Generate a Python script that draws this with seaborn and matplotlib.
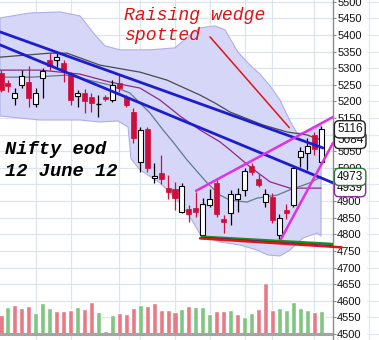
import numpy as np
import pandas as pd
import matplotlib
matplotlib.use("Agg")
import matplotlib.pyplot as plt
import matplotlib.transforms as mtransforms
import seaborn as sns

# ---------------- data ----------------
opens  = [5284, 5254, 5209, 5249, 5259, 5192, 5269, 5324, 5324, 5316,
          5279, 5217, 5224, 5214, 5192, 5214, 5204, 5254, 5214, 5169,
          5019, 5116, 4969, 4985, 4939, 4936, 4868, 4875, 4878, 4798,
          4888, 4955, 4845, 4863, 4905, 4932, 5006, 4966, 4896, 4912,
          4798, 4873, 4887, 5034, 5044, 5099, 5018]
highs  = [5294, 5264, 5239, 5294, 5306, 5239, 5299, 5345, 5345, 5324,
          5289, 5234, 5236, 5224, 5219, 5219, 5264, 5279, 5219, 5179,
          5124, 5124, 5016, 5039, 4979, 4958, 4955, 4888, 4927, 4908,
          4936, 4963, 4858, 4933, 4939, 4999, 5015, 4982, 4936, 4924,
          4861, 4891, 5009, 5064, 5089, 5109, 5126]
lows   = [5228, 5229, 5189, 5240, 5184, 5184, 5209, 5294, 5304, 5259,
          5189, 5182, 5164, 5169, 5154, 5201, 5198, 5229, 5184, 5074,
          4989, 4988, 4955, 4952, 4906, 4873, 4864, 4838, 4851, 4788,
          4882, 4851, 4803, 4828, 4868, 4915, 4979, 4942, 4882, 4834,
          4785, 4846, 4882, 5004, 4994, 5039, 5010]
closes = [5234, 5246, 5226, 5276, 5209, 5226, 5291, 5306, 5333, 5292,
          5204, 5224, 5201, 5194, 5192, 5207, 5249, 5239, 5189, 5089,
          5114, 4999, 4976, 4966, 4928, 4908, 4945, 4861, 4867, 4891,
          4905, 4860, 4836, 4922, 4921, 4991, 4988, 4947, 4922, 4842,
          4848, 4863, 4999, 5052, 5066, 5056, 5116]
volumes = [19, 27, 29, 26, 28, 21, 31, 26, 23, 23,
           24, 27, 25, 32, 22, 3, 19, 21, 20, 26,
           29, 28, 31, 24, 24, 22, 25, 28, 27, 27,
           20, 23, 23, 24, 20, 17, 21, 25, 51, 24,
           26, 24, 32, 26, 24, 22, 23]
vol_dir = ['d', 'u', 'd', 'd', 'd', 'u', 'u', 'u', 'd', 'd',
           'd', 'u', 'd', 'd', 'u', 'n', 'u', 'd', 'd', 'd',
           'u', 'd', 'd', 'd', 'd', 'd', 'u', 'd', 'u', 'u',
           'u', 'd', 'd', 'u', 'd', 'u', 'u', 'd', 'd', 'd',
           'u', 'u', 'u', 'u', 'u', 'd', 'u']

# Bollinger band (index, price)
bb_up_x = [-0.14, 4.17, 8.48, 11.35, 13.5, 14.94, 17.1, 21.41, 25.0, 27.16, 28.59,
           30.75, 32.18, 34.05, 35.78, 37.21, 38.65, 40.09, 41.52, 42.53, 43.68, 44.83, 45.98]
bb_up_y = [5451, 5466, 5469, 5457, 5400, 5367, 5355, 5355, 5361, 5400, 5421,
           5427, 5415, 5348, 5309, 5282, 5246, 5204, 5141, 5105, 5105, 5114, 5129]
bb_lo_x = [-0.14, 5.6, 11.35, 14.22, 16.81, 18.25, 18.68, 19.97, 22.84, 25.72, 27.16,
           28.59, 30.03, 31.47, 34.34, 36.78, 38.36, 40.09, 41.52, 43.39, 45.4, 45.98]
bb_lo_y = [5156, 5144, 5144, 5138, 5141, 5123, 5027, 4994, 4955, 4894, 4852,
           4801, 4789, 4777, 4768, 4753, 4738, 4735, 4753, 4789, 4804, 4795]

# moving averages
ma_gray_x = [-0.14, 7.04, 9.48, 14.22, 19.97, 23.85, 28.59, 30.75, 32.9, 37.64, 41.09, 43.97, 45.98]
ma_gray_y = [5333, 5345, 5345, 5309, 5288, 5264, 5219, 5195, 5168, 5129, 5108, 5099, 5084]
ma_purple_x = [-0.14, 5.6, 11.35, 15.66, 19.97, 22.84, 25.72, 28.59, 31.47, 32.9, 35.78, 38.65, 41.52, 45.98]
ma_purple_y = [5294, 5294, 5282, 5258, 5240, 5204, 5156, 5114, 5078, 5054, 5003, 4958, 4939, 4939]
ma_slate_x = [-0.14, 4.6, 9.48, 15.66, 18.53, 21.41, 23.28, 24.71, 26.72, 29.6, 31.47,
              32.9, 35.34, 36.78, 39.66, 41.52, 44.4, 45.98]
ma_slate_y = [5273, 5273, 5279, 5249, 5225, 5165, 5114, 5078, 5024, 4955, 4918,
              4903, 4897, 4909, 4918, 4934, 4955, 4973]

# trend lines
blue_a_x, blue_a_y = [-0.14, 46.26], [5409, 5060]
blue_b_x, blue_b_y = [-0.14, 47.7], [5370, 4955]
mag_up_x, mag_up_y = [28.02, 47.7], [4931, 5153]
mag_lo_x, mag_lo_y = [40.23, 47.7], [4786, 5075]
sup_green_x, sup_green_y = [28.83, 47.7], [4793, 4771]
sup_blue_x, sup_blue_y = [28.9, 47.7], [4790, 4765]
sup_red_x, sup_red_y = [28.59, 48.96], [4788, 4761]
arrow_x, arrow_y = [30.03, 41.42], [5394, 5121]

price_ticks = list(range(4500, 5501, 50))
vgrid_idx = [5, 10, 17, 20, 25, 30, 35, 39, 45]
value_labels = [("5084", 5084, "#222222"), ("5116", 5116, "#222222"),
                ("4939", 4939, "#8a2a9a"), ("4973", 4973, "#2a7a3a")]

# ---------------- style ----------------
sns.set_style("white")
plt.rcParams['font.family'] = ['Liberation Sans', 'DejaVu Sans']

W, H = 379, 340
fig = plt.figure(figsize=(W / 100, H / 100), dpi=100)
ax = fig.add_axes([0, 0, 333 / W, 1])
ax.set_xlim(-0.144, 47.70)
ax.set_ylim(4482.3, 5504.9)

# volume on twin axis (created first so the price ticks can be set afterwards)
ax2 = ax.twinx()
ax2.set_ylim(-6, 334)
vcol = {'u': '#80c680', 'd': '#e87a86', 'n': '#a0a0a0'}
bw = 0.72
ax2.bar(range(len(volumes)), volumes, width=bw, color=[vcol[d] for d in vol_dir], zorder=2)
ax2.axhline(0, color='#a4a4a4', lw=2.2, zorder=3)
ax2.set_yticks([])
for s in ax2.spines.values():
    s.set_visible(False)

# grid
for p in price_ticks:
    ax.axhline(p, color='#dde4ec', lw=0.9, zorder=0)
for k in vgrid_idx:
    ax.axvline(k, color='#dde4ec', lw=0.9, zorder=0)

# Bollinger band
poly_x = bb_up_x + bb_lo_x[::-1]
poly_y = bb_up_y + bb_lo_y[::-1]
ax.fill(poly_x, poly_y, facecolor='#d6d6f9', edgecolor='#aeaee6', lw=0.8, zorder=1)

# moving averages
sns.lineplot(x=ma_gray_x, y=ma_gray_y, ax=ax, color='#4a4a4a', lw=0.9, sort=False, estimator=None, zorder=2)
sns.lineplot(x=ma_purple_x, y=ma_purple_y, ax=ax, color='#8a2a8a', lw=0.9, sort=False, estimator=None, zorder=2)
sns.lineplot(x=ma_slate_x, y=ma_slate_y, ax=ax, color='#5f7a8a', lw=0.9, sort=False, estimator=None, zorder=2)

# candles
red = '#cc0f3c'
for k in range(len(opens)):
    o, h, l, c = opens[k], highs[k], lows[k], closes[k]
    if c < o:
        ax.vlines(k, l, h, color=red, lw=0.9, zorder=3)
        ax.bar(k, o - c, bottom=c, width=bw, color=red, edgecolor=red, lw=0.5, zorder=4)
    elif c > o:
        ax.vlines(k, l, h, color='black', lw=0.9, zorder=3)
        ax.bar(k, c - o, bottom=o, width=bw, color='white', edgecolor='black', lw=0.8, zorder=4)
    else:
        ax.vlines(k, l, h, color='black', lw=0.9, zorder=3)
        ax.hlines(o, k - bw / 2, k + bw / 2, color='black', lw=1.0, zorder=4)

# trend lines
for xs, ys, col, lw in [(blue_a_x, blue_a_y, '#1c1cd0', 2.0),
                        (blue_b_x, blue_b_y, '#1c1cd0', 2.0),
                        (mag_up_x, mag_up_y, '#e030e6', 1.8),
                        (mag_lo_x, mag_lo_y, '#e030e6', 1.8),
                        (sup_green_x, sup_green_y, '#208a20', 1.8),
                        (sup_blue_x, sup_blue_y, '#202090', 1.2),
                        (arrow_x, arrow_y, '#e01414', 1.1)]:
    sns.lineplot(x=xs, y=ys, ax=ax, color=col, lw=lw, sort=False, estimator=None, zorder=5)
ax.plot(sup_red_x, sup_red_y, color='#e01414', lw=1.8, zorder=5, clip_on=False)

# axis styling
for s in ['top', 'left', 'bottom']:
    ax.spines[s].set_visible(False)
ax.spines['right'].set_visible(True)
ax.spines['right'].set_color('#8c8c8c')
ax.spines['right'].set_linewidth(1.0)
ax.set_xticks([])
ax.set_yticks(price_ticks)
ax.set_yticklabels([str(p) for p in price_ticks])
ax.yaxis.set_ticks_position('right')
ax.yaxis.set_label_position('right')
ax.tick_params(axis='y', which='both', left=False, labelleft=False, right=True, labelright=True,
               length=2, width=0.8, color='#8c8c8c', pad=1, labelsize=8, labelcolor='#111111')
ax.set_xlabel('')
ax.set_ylabel('')

# value labels on the price scale
trans = mtransforms.blended_transform_factory(ax.transAxes, ax.transData)
for i, (txt, val, col) in enumerate(value_labels):
    ax.text(1.012, val, txt, transform=trans, ha='left', va='center', fontsize=8.5,
            color='#111111', zorder=10 + i,
            bbox=dict(boxstyle='round,pad=0.22,rounding_size=0.4', fc='white', ec=col, lw=1.0))

# right strip with faint grid
ax3 = fig.add_axes([367 / W, 0, 12 / W, 1])
ax3.set_ylim(4482.3, 5504.9)
ax3.set_xlim(0, 1)
for p in price_ticks:
    ax3.axhline(p, color='#e4e8ee', lw=0.9)
ax3.axvline(0.2, color='#e4e8ee', lw=0.9)
ax3.axis('off')

# annotations
fig.text(124 / W, 1 - 20 / H, 'Raising wedge', family='Liberation Mono', style='italic',
         fontsize=13.1, color='#e01414', va='baseline', ha='left')
fig.text(124 / W, 1 - 40 / H, 'spotted', family='Liberation Mono', style='italic',
         fontsize=13.1, color='#e01414', va='baseline', ha='left')
fig.text(5 / W, 1 - 154 / H, 'Nifty eod', family='Liberation Mono', style='italic',
         weight='bold', fontsize=13.5, color='black', va='baseline', ha='left')
fig.text(5 / W, 1 - 176 / H, '12 June 12', family='Liberation Mono', style='italic',
         weight='bold', fontsize=13.5, color='black', va='baseline', ha='left')

fig.savefig('out.png', dpi=100, facecolor='white')
